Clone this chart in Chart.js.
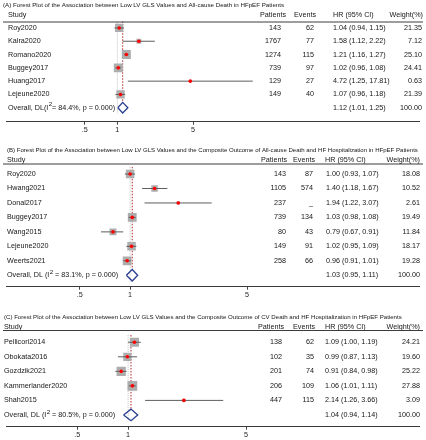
<!DOCTYPE html>
<html><head><meta charset="utf-8">
<script src="https://cdn.jsdelivr.net/npm/chart.js@4.4.1/dist/chart.umd.min.js"></script>
<style>
html,body{margin:0;padding:0;background:#fff;width:426px;height:440px;overflow:hidden;position:relative}
canvas{position:absolute;left:0}
</style></head><body>
<canvas id="cA" width="426" height="140" style="top:0px"></canvas>
<canvas id="cB" width="426" height="166" style="top:136px"></canvas>
<canvas id="cC" width="426" height="142" style="top:298px"></canvas>
<script>
// ---------- shared ----------
const headers = ["Study", "Patients", "Events", "HR (95% CI)", "Weight(%)"];
const tickValues = [0.5, 1, 5];
const tickLabels = [".5", "1", "5"];

// ---------- Panel A ----------
const titleA = "(A) Forest Plot of the Association between Low LV GLS Values and All-cause Death in HFpEF Patients";
const studiesA = ["Roy2020", "Kalra2020", "Romano2020", "Buggey2017", "Huang2017", "Lejeune2020"];
const patientsA = ["143", "1767", "1274", "739", "129", "149"];
const eventsA = ["62", "77", "115", "97", "27", "40"];
const hrA = [1.04, 1.58, 1.21, 1.02, 4.72, 1.07];
const loA = [0.94, 1.12, 1.16, 0.96, 1.25, 0.96];
const hiA = [1.15, 2.22, 1.27, 1.08, 17.81, 1.18];
const weightA = [21.35, 7.12, 25.10, 24.41, 0.63, 21.39];
const overallA = [1.12, 1.01, 1.25];
const overallLabelA = ["Overall, DL(I", "2", "= 84.4%, p = 0.000)"];

// ---------- Panel B ----------
const titleB = "(B) Forest Plot of the Association between Low LV GLS Values and the Composite Outcome of All-cause Death and HF Hospitalization in HFpEF Patients";
const studiesB = ["Roy2020", "Hwang2021", "Donal2017", "Buggey2017", "Wang2015", "Lejeune2020", "Weerts2021"];
const patientsB = ["143", "1105", "237", "739", "80", "149", "258"];
const eventsB = ["87", "574", "_", "134", "43", "91", "66"];
const hrB = [1.00, 1.40, 1.94, 1.03, 0.79, 1.02, 0.96];
const loB = [0.93, 1.18, 1.22, 0.98, 0.67, 0.95, 0.91];
const hiB = [1.07, 1.67, 3.07, 1.08, 0.91, 1.09, 1.01];
const weightB = [18.08, 10.52, 2.61, 19.49, 11.84, 18.17, 19.28];
const overallB = [1.03, 0.95, 1.11];
const overallLabelB = ["Overall, DL (I", "2", " = 83.1%, p = 0.000)"];

// ---------- Panel C ----------
const titleC = "(C) Forest Plot of the Association between Low LV GLS Values and the Composite Outcome of CV Death and HF Hospitalization in HFpEF Patients";
const studiesC = ["Pellicori2014", "Obokata2016", "Gozdzik2021", "Kammerlander2020", "Shah2015"];
const patientsC = ["138", "102", "201", "206", "447"];
const eventsC = ["62", "35", "74", "109", "115"];
const hrC = [1.09, 0.99, 0.91, 1.06, 2.14];
const loC = [1.00, 0.87, 0.84, 1.01, 1.26];
const hiC = [1.19, 1.13, 0.98, 1.11, 3.66];
const weightC = [24.21, 19.60, 25.22, 27.88, 3.09];
const overallC = [1.04, 0.94, 1.14];
const overallLabelC = ["Overall, DL (I", "2", " = 80.5%, p = 0.000)"];

const FONT = '"Liberation Sans", Arial, sans-serif';
const TXT = '#161616';

function makeForest(id, d, L) {
  const n = d.studies.length;
  const left = 3, right = 423;
  const lmin = (left - L.oneX) / L.decade;
  const lmax = (right - L.oneX) / L.decade;
  const rows = d.studies.map((_, i) => i);
  const f2 = v => v.toFixed(2);

  const datasets = [];
  datasets.push({data: [{x: 1, y: -0.5}, {x: 1, y: n + 0.45}], showLine: true, borderColor: '#c4c4c4',
    borderWidth: 1, borderDash: [1, 1], pointRadius: 0, order: 7});
  datasets.push({data: [{x: d.overall[0], y: -0.5}, {x: d.overall[0], y: n - 0.42}], showLine: true,
    borderColor: '#b3262b', borderWidth: 1, borderDash: [1.5, 1.5], pointRadius: 0, order: 6});
  datasets.push({data: rows.map(i => ({x: d.hr[i], y: i})), pointStyle: 'rect',
    pointRadius: c => L.boxK * Math.sqrt(d.weight[c.dataIndex]) / 1.414,
    backgroundColor: '#adadad', borderWidth: 0, order: 5});
  rows.forEach(i => datasets.push({data: [{x: d.lo[i], y: i}, {x: d.hi[i], y: i}], showLine: true,
    borderColor: '#5e5e5e', borderWidth: 1, pointRadius: 0, order: 4}));
  datasets.push({data: rows.map(i => ({x: d.hr[i], y: i})), pointStyle: 'circle', pointRadius: 1.8,
    backgroundColor: '#ff0000', borderWidth: 0, order: 2});
  const o = d.overall;
  datasets.push({data: [{x: o[1], y: n}, {x: o[0], y: n - 0.4}, {x: o[2], y: n}, {x: o[0], y: n + 0.4}, {x: o[1], y: n}],
    showLine: true, borderColor: '#2a3f8f', borderWidth: 1.3, pointRadius: 0, order: 1});

  const textPlugin = {
    id: 'tbl' + id,
    afterDraw(chart) {
      const ctx = chart.ctx, ys = chart.scales.y;
      ctx.save();
      ctx.fillStyle = TXT;
      ctx.textBaseline = 'middle';
      ctx.font = L.titleSize + 'px ' + FONT;
      ctx.textAlign = 'left';
      ctx.fillText(d.title, L.titleX, L.titleY);
      ctx.font = '7.2px ' + FONT;
      ctx.fillText(headers[0], L.labelX, L.headY);
      ctx.textAlign = 'right';
      ctx.fillText(headers[1], L.hcols[0], L.headY);
      ctx.fillText(headers[2], L.hcols[1], L.headY);
      ctx.textAlign = 'left';
      ctx.fillText(headers[3], L.hcols[2], L.headY);
      ctx.textAlign = 'right';
      ctx.fillText(headers[4], L.hcols[3], L.headY);
      ctx.strokeStyle = '#3c3c3c'; ctx.lineWidth = 1;
      ctx.beginPath(); ctx.moveTo(3, L.lineY + 0.5); ctx.lineTo(423, L.lineY + 0.5); ctx.stroke();
      rows.forEach(i => {
        const y = ys.getPixelForValue(i);
        ctx.textAlign = 'left';
        ctx.fillText(d.studies[i], L.labelX, y);
        ctx.textAlign = 'right';
        ctx.fillText(d.patients[i], L.cols[0], y);
        ctx.fillText(d.events[i], L.cols[1], y);
        ctx.textAlign = 'left';
        ctx.fillText(f2(d.hr[i]) + ' (' + f2(d.lo[i]) + ', ' + f2(d.hi[i]) + ')', L.cols[2], y);
        ctx.textAlign = 'right';
        ctx.fillText(f2(d.weight[i]), L.cols[3], y);
      });
      const yo = ys.getPixelForValue(n);
      ctx.textAlign = 'left';
      let x = L.labelX;
      ctx.fillText(d.overallLabel[0], x, yo); x += ctx.measureText(d.overallLabel[0]).width + 0.3;
      ctx.font = '6.2px ' + FONT;
      ctx.fillText(d.overallLabel[1], x, yo - 3); x += ctx.measureText(d.overallLabel[1]).width;
      ctx.font = '7.2px ' + FONT;
      ctx.fillText(d.overallLabel[2], x, yo);
      ctx.fillText(f2(o[0]) + ' (' + f2(o[1]) + ', ' + f2(o[2]) + ')', L.cols[2], yo);
      ctx.textAlign = 'right';
      const totalW = d.weight.reduce((a, b) => a + b, 0);
      ctx.fillText((Math.round(totalW)).toFixed(2), L.cols[3], yo);
      ctx.restore();
    }
  };

  return new Chart(document.getElementById(id), {
    type: 'scatter',
    data: {datasets},
    options: {
      responsive: false, animation: false, events: [], devicePixelRatio: 1,
      layout: {padding: {left: left, right: 426 - right, top: L.padTop, bottom: L.padBottom}},
      plugins: {legend: {display: false}, tooltip: {enabled: false}},
      scales: {
        x: {
          type: 'logarithmic', min: Math.pow(10, lmin), max: Math.pow(10, lmax),
          afterBuildTicks: s => { s.ticks = tickValues.map(v => ({value: v})); },
          afterFit: s => { s.height = 13; },
          ticks: {callback: (v, i) => tickLabels[i], autoSkip: false, maxRotation: 0, padding: 1,
            font: {size: 7.2, family: FONT}, color: '#222'},
          grid: {drawOnChartArea: false, drawTicks: true, tickLength: 3, color: '#444'},
          border: {display: true, dash: [3, 2.5], color: '#3a3a3a', width: 1}
        },
        y: {type: 'linear', reverse: true, min: -0.5, max: L.yMax, display: false}
      }
    },
    plugins: [textPlugin]
  });
}

makeForest('cA', {title: titleA, studies: studiesA, patients: patientsA, events: eventsA, hr: hrA, lo: loA, hi: hiA,
  weight: weightA, overall: overallA, overallLabel: overallLabelA},
  {oneX: 115.8, decade: 110, padTop: 21.3, padBottom: 5.3, yMax: 7.05, titleX: 3, titleY: 5, titleSize: 6.2, headY: 15, lineY: 21.5,
   labelX: 8, cols: [281, 314, 333, 422], hcols: [286, 316, 333, 423], boxK: 1.8});

makeForest('cB', {title: titleB, studies: studiesB, patients: patientsB, events: eventsB, hr: hrB, lo: loB, hi: hiB,
  weight: weightB, overall: overallB, overallLabel: overallLabelB},
  {oneX: 128.8, decade: 170, padTop: 30.8, padBottom: 2.3, yMax: 7.79, titleX: 7, titleY: 14, titleSize: 6.05, headY: 24.5, lineY: 27.5,
   labelX: 7, cols: [286, 313, 326, 420], hcols: [287, 315, 325, 420], boxK: 2.0});

makeForest('cC', {title: titleC, studies: studiesC, patients: patientsC, events: eventsC, hr: hrC, lo: loC, hi: hiC,
  weight: weightC, overall: overallC, overallLabel: overallLabelC},
  {oneX: 126.5, decade: 172, padTop: 37, padBottom: 0.3, yMax: 5.81, titleX: 4, titleY: 19, titleSize: 6.1, headY: 29, lineY: 32,
   labelX: 4, cols: [282, 314, 325, 420], hcols: [284, 315, 325, 420], boxK: 1.85});
</script>
</body></html>
